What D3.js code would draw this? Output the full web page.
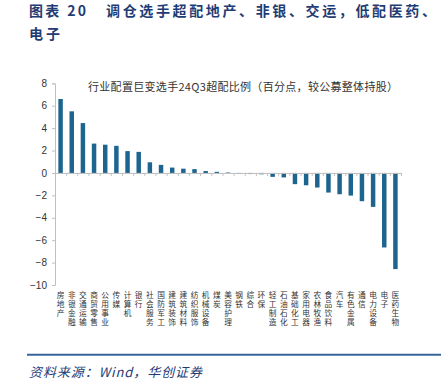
<!DOCTYPE html>
<html>
<head>
<meta charset="utf-8">
<script src="https://cdn.jsdelivr.net/npm/d3@7"></script>
<style>
  body { margin: 0; background: #fff; }
  svg { display: block; }
</style>
</head>
<body>
<svg id="chart"></svg>
<script>
// industries, ordered as in the chart
var industries = ["房地产", "非银金融", "交通运输", "商贸零售", "公用事业", "传媒", "计算机", "银行",
    "社会服务", "国防军工", "建筑装饰", "建筑材料", "纺织服饰", "机械设备", "煤炭", "美容护理",
    "钢铁", "综合", "环保", "轻工制造", "石油石化", "基础化工", "家用电器", "农林牧渔",
    "食品饮料", "汽车", "有色金属", "通信", "电力设备", "电子", "医药生物"];
// 24Q3 over-allocation vs. all public funds (pct points)
var overweight = [6.6, 5.5, 4.45, 2.62, 2.52, 2.42, 1.95, 1.88,
    0.95, 0.72, 0.48, 0.38, 0.34, 0.17, 0.1, 0.04,
    -0.05, -0.1, -0.12, -0.35, -0.4, -1.0, -1.1, -1.3,
    -1.75, -1.9, -2.02, -2.52, -3.03, -6.65, -8.58];
var yTicks = [8, 6, 4, 2, 0, -2, -4, -6, -8, -10];

var W = 443, H = 389;
var svg = d3.select("#chart").attr("width", W).attr("height", H);

var navy = "#1f3c74";

// title
var title = svg.append("text")
    .attr("x", 29)
    .attr("y", 15.5)
    .attr("font-family", "Noto Sans CJK SC")
    .attr("font-weight", "bold")
    .attr("font-size", 14)
    .attr("fill", navy);
title.append("tspan").text("图表 20").attr("textLength", 57).attr("lengthAdjust", "spacing");
title.append("tspan").attr("x", 106).text("调仓选手超配地产、非银、交运，低配医药、")
    .attr("textLength", 330).attr("lengthAdjust", "spacing");
svg.append("text")
    .attr("x", 29)
    .attr("y", 39)
    .attr("font-family", "Noto Sans CJK SC")
    .attr("font-weight", "bold")
    .attr("font-size", 14)
    .attr("fill", navy)
    .attr("textLength", 31)
    .attr("lengthAdjust", "spacing")
    .text("电子");

var x = d3.scaleBand().domain(industries).range([55, 401]).paddingInner(0.6).paddingOuter(0.3);
var y = d3.scaleLinear().domain([-10, 8]).range([285, 83.3]);
var xEdge = d3.scaleLinear().domain([0, industries.length]).range([55, 401]);

var g = svg.append("g");

// y axis
var yAxis = g.append("g")
    .attr("transform", "translate(55,0)")
    .call(d3.axisLeft(y).tickValues(yTicks).tickSize(3).tickPadding(5).tickFormat(d3.format("d")));
yAxis.select(".domain").attr("stroke", "#bfbfbf");
yAxis.selectAll(".tick line").attr("stroke", "#bfbfbf");
yAxis.selectAll(".tick text")
    .attr("font-family", "Arial, Liberation Sans, sans-serif")
    .attr("font-size", 10)
    .attr("fill", "#333");

// bars
g.selectAll(".bar")
    .data(industries)
    .enter()
    .append("rect")
    .attr("class", "bar")
    .attr("x", function (d) { return x(d); })
    .attr("width", x.bandwidth())
    .attr("y", function (d, i) { return y(Math.max(0, overweight[i])); })
    .attr("height", function (d, i) { return Math.abs(y(overweight[i]) - y(0)); })
    .attr("fill", "#1d648f");

// x axis at zero, ticks on category edges
var xAxis = g.append("g")
    .attr("transform", "translate(0," + y(0) + ")")
    .call(d3.axisBottom(xEdge).tickValues(d3.range(0, industries.length + 1)).tickSize(3).tickFormat(""));
xAxis.select(".domain").attr("stroke", "#bfbfbf");
xAxis.selectAll(".tick line").attr("stroke", "#bfbfbf");

// category labels, written top to bottom
g.selectAll(".cat")
    .data(industries)
    .enter()
    .append("text")
    .attr("class", "cat")
    .attr("x", function (d) { return x(d) + x.bandwidth() / 2; })
    .attr("y", 291)
    .attr("writing-mode", "vertical-rl")
    .attr("font-family", "Noto Sans CJK SC")
    .attr("font-size", 7.7)
    .attr("letter-spacing", 1.5)
    .attr("fill", "#333")
    .text(function (d) { return d; });

// legend text
g.append("text")
    .attr("x", 88)
    .attr("y", 91)
    .attr("font-family", "Noto Sans CJK SC")
    .attr("font-size", 11)
    .attr("fill", "#333")
    .attr("textLength", 310)
    .attr("lengthAdjust", "spacing")
    .text("行业配置巨变选手24Q3超配比例（百分点，较公募整体持股）");

// footer
svg.append("line")
    .attr("x1", 27).attr("x2", 441)
    .attr("y1", 354.7).attr("y2", 354.7)
    .attr("stroke", "#35659a")
    .attr("stroke-width", 2);
svg.append("text")
    .attr("x", 29)
    .attr("y", 376.5)
    .attr("font-family", "Noto Sans CJK SC")
    .attr("font-style", "italic")
    .attr("font-size", 13)
    .attr("fill", navy)
    .attr("textLength", 173)
    .attr("lengthAdjust", "spacing")
    .text("资料来源：Wind，华创证券");
</script>
</body>
</html>
